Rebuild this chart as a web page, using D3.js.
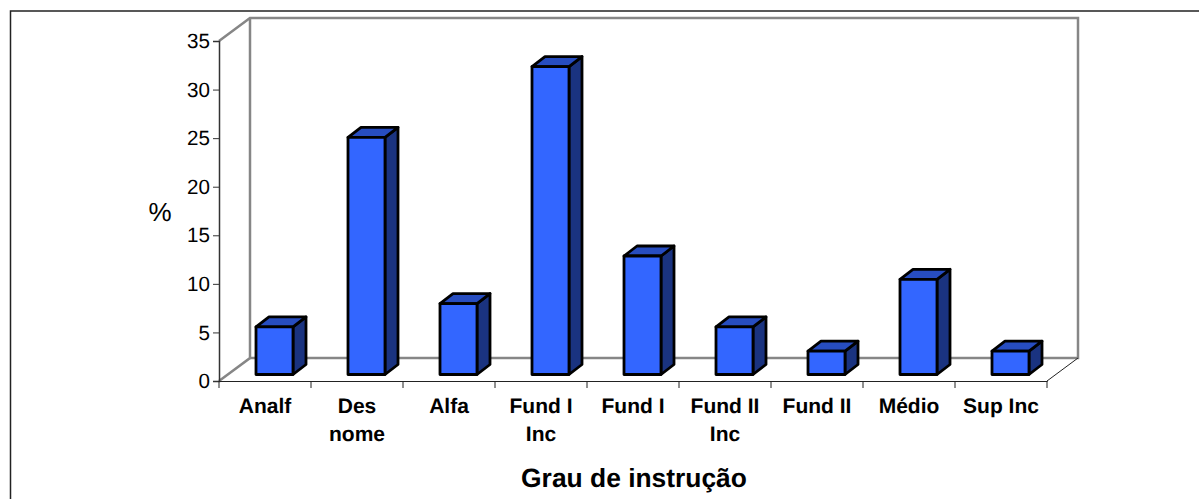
<!DOCTYPE html>
<html>
<head>
<meta charset="utf-8">
<script src="https://cdnjs.cloudflare.com/ajax/libs/d3/7.8.5/d3.min.js"></script>
<style>
html, body { margin: 0; padding: 0; background: #fff; overflow: hidden; }
svg { display: block; font-family: "Liberation Sans", Arial, sans-serif; text-rendering: geometricPrecision; }
</style>
</head>
<body>
<svg id="chart" width="1199" height="499"></svg>
<script>
var categories = ["Analf", "Des nome", "Alfa", "Fund I Inc", "Fund I", "Fund II Inc", "Fund II", "Médio", "Sup Inc"];
var values = [4.9, 24.4, 7.3, 31.7, 12.2, 4.9, 2.4, 9.8, 2.4];
var yTicks = [0, 5, 10, 15, 20, 25, 30, 35];
// which labels wrap on to a second line
var labelLines = [["Analf"], ["Des", "nome"], ["Alfa"], ["Fund I", "Inc"], ["Fund I"], ["Fund II", "Inc"], ["Fund II"], ["Médio"], ["Sup Inc"]];

var WALL_DX = 31, WALL_DY = 23; // px, floor depth
var BAR_DX = 13, BAR_DY = 10; // px, bar depth
var BAR_INSET_X = 37, BAR_W = 37; // px
var BAR_FLOOR = 6.5; // px, bars stand this far behind the front edge

var svg = d3.select("#chart");

var x = d3.scaleBand().domain(categories).range([219, 1047]);
var y = d3.scaleLinear().domain([0, 35]).range([381, 41]);

function pts(a) { return a.map(function(p) { return p.join(","); }).join(" "); }

// outer frame, no right or bottom edge in the picture
svg.append("path")
	.attr("fill", "none")
	.attr("stroke", "#222")
	.attr("stroke-width", 1.5)
	.attr("d", d3.line()([[10.5, 499], [10.5, 11], [1199, 11]]));

// back walls and floor
var x0 = x.range()[0], x1 = x.range()[1], y0 = y(0), yTop = y(35);

svg.append("path")
	.attr("fill", "none")
	.attr("stroke", "#868686")
	.attr("stroke-width", 2.5)
	.attr("d", d3.line()([
		[x0, yTop], [x0 + WALL_DX, yTop - WALL_DY], [x1 + WALL_DX, yTop - WALL_DY],
		[x1 + WALL_DX, y0 - WALL_DY], [x0 + WALL_DX, y0 - WALL_DY]
	]));
svg.append("path")
	.attr("fill", "none")
	.attr("stroke", "#868686")
	.attr("stroke-width", 2.5)
	.attr("d", d3.line()([[x0, y0], [x0 + WALL_DX, y0 - WALL_DY], [x0 + WALL_DX, yTop - WALL_DY]]));
svg.append("path")
	.attr("fill", "none")
	.attr("stroke", "#222")
	.attr("stroke-width", 1)
	.attr("d", d3.line()([[x1, y0], [x1 + WALL_DX, y0 - WALL_DY]]));

// y axis
var yAxis = svg.append("g")
	.attr("transform", "translate(" + x0 + ",0)")
	.call(d3.axisLeft(y).tickValues(yTicks).tickSize(6).tickPadding(3));
yAxis.select(".domain").attr("stroke", "#333").attr("stroke-width", 1.5);
yAxis.selectAll("line").attr("stroke", "#333").attr("stroke-width", 1);
yAxis.selectAll("text")
	.attr("font-size", 20.6)
	.attr("font-family", "Liberation Sans")
	.attr("fill", "#000");

// x axis, labels at band centres and ticks at band edges
var xAxis = svg.append("g")
	.attr("transform", "translate(0," + y0 + ")")
	.call(d3.axisBottom(x).tickSize(0).tickFormat(""));
xAxis.select(".domain").attr("stroke", "#222").attr("stroke-width", 1.2);

var edges = categories.map(function(c) { return x(c); }).concat([x1]);
svg.append("g").selectAll("line")
	.data(edges)
	.enter().append("line")
		.attr("x1", function(d) { return d; })
		.attr("x2", function(d) { return d; })
		.attr("y1", y0)
		.attr("y2", y0 + 7)
		.attr("stroke", "#222")
		.attr("stroke-width", 1);

var labels = svg.append("g")
	.attr("font-size", 21)
	.attr("font-weight", "bold")
	.attr("text-anchor", "middle")
	.attr("fill", "#000");
labels.selectAll("text")
	.data(categories)
	.enter().append("text")
		.each(function(d, i) {
			var t = d3.select(this);
			labelLines[i].forEach(function(line, j) {
				t.append("tspan")
					.attr("x", x(d) + x.bandwidth() / 2)
					.attr("y", 413 + j * 28)
					.text(line);
			});
		});

// 3d bars
var bars = svg.append("g")
	.attr("stroke", "#000")
	.attr("stroke-width", 2.8)
	.attr("stroke-linejoin", "round");

var bar = bars.selectAll("g")
	.data(values)
	.enter().append("g");

function bx(i) { return x(categories[i]) + BAR_INSET_X; }
function bt(d) { return y(d) - BAR_FLOOR; }
var bb = y(0) - BAR_FLOOR;

bar.append("polygon")
	.attr("fill", "#1a3380")
	.attr("points", function(d, i) {
		var l = bx(i) + BAR_W;
		return pts([[l, bt(d)], [l + BAR_DX, bt(d) - BAR_DY], [l + BAR_DX, bb - BAR_DY], [l, bb]]);
	});
bar.append("polygon")
	.attr("fill", "#274dc0")
	.attr("points", function(d, i) {
		var l = bx(i);
		return pts([[l, bt(d)], [l + BAR_DX, bt(d) - BAR_DY], [l + BAR_W + BAR_DX, bt(d) - BAR_DY], [l + BAR_W, bt(d)]]);
	});
bar.append("rect")
	.attr("fill", "#3366ff")
	.attr("x", function(d, i) { return bx(i); })
	.attr("y", function(d) { return bt(d); })
	.attr("width", BAR_W)
	.attr("height", function(d) { return bb - bt(d); });

// axis titles
svg.append("text")
	.attr("x", 160)
	.attr("y", 221)
	.attr("text-anchor", "middle")
	.attr("font-size", 26)
	.attr("fill", "#000")
	.text("%");

svg.append("text")
	.attr("x", 634)
	.attr("y", 487)
	.attr("text-anchor", "middle")
	.attr("font-size", 26.4)
	.attr("font-weight", "bold")
	.attr("fill", "#000")
	.text("Grau de instrução");
</script>
</body>
</html>
